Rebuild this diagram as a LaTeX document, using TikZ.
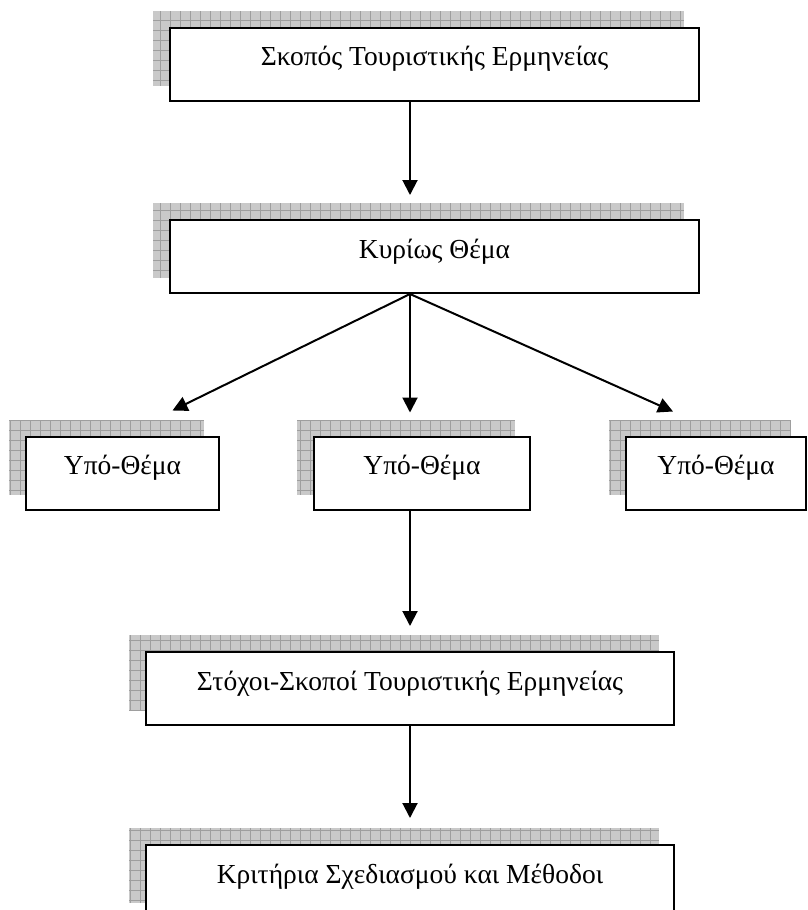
\documentclass[tikz,border=0pt]{standalone}
\usepackage{fontspec}
\setmainfont{Liberation Serif}
\usetikzlibrary{arrows.meta, positioning, calc, backgrounds}

\definecolor{shadowgray}{gray}{0.79}
\definecolor{gridgray}{gray}{0.62}

\tikzset{
  box/.style={draw, line width=2pt, fill=white, inner sep=0pt,
    minimum height=73pt, text height=20pt, text depth=17pt,
    font=\fontsize{27.5}{33}\selectfont},
  link/.style={line width=2pt, -{Triangle[length=15pt, width=15pt]}},
}

\begin{document}
\begin{tikzpicture}[x=1pt, y=-1pt]
	\clip (0,0) rectangle (808,910);

	% main chain
	\node[box, minimum width=529pt] (aim) at (434.5,64) {Σκοπός Τουριστικής Ερμηνείας};
	\node[box, minimum width=529pt] (theme) at (434.5,256.5) {Κυρίως Θέμα};

	% sub themes
	\node[box, minimum width=193pt] (subA) at (122.5,473) {Υπό-Θέμα};
	\node[box, minimum width=216pt] (subB) at (422,473) {Υπό-Θέμα};
	\node[box, minimum width=180pt] (subC) at (716,473) {Υπό-Θέμα};

	\node[box, minimum width=528pt] (goals) at (410,688.5) {Στόχοι-Σκοποί Τουριστικής Ερμηνείας};
	\node[box, minimum width=528pt] (criteria) at (410,881.5) {Κριτήρια Σχεδιασμού και Μέθοδοι};

	% grid shadows behind the boxes
	\begin{scope}[on background layer]
		\foreach \n in {aim, theme, subA, subB, subC, goals, criteria} {
			\begin{scope}
				\clip ([shift={(-16,-16)}]\n.south west) rectangle ([shift={(-16,-16)}]\n.north east);
				\fill[shadowgray] ([shift={(-16,-16)}]\n.south west) rectangle ([shift={(-16,-16)}]\n.north east);
				\draw[gridgray, line width=0.6pt, step=10pt] ([shift={(-16,-16)}]\n.south west) grid ([shift={(-16,-16)}]\n.north east);
			\end{scope}
		}
	\end{scope}

	\coordinate (tipA) at ($(subA.north)+(50,-25)$);
	\coordinate (tipC) at ($(subC.north)+(-43,-24)$);

	\draw[link, shorten >=24pt] (aim.south -| goals) -- (theme.north -| goals);
	\draw[link] (theme.south -| goals) -- (tipA);
	\draw[link, shorten >=23pt] (theme.south -| goals) -- (subB.north -| goals);
	\draw[link] (theme.south -| goals) -- (tipC);
	\draw[link, shorten >=25pt] (subB.south -| goals) -- (goals.north);
	\draw[link, shorten >=26pt] (goals.south) -- (criteria.north);
\end{tikzpicture}
\end{document}
